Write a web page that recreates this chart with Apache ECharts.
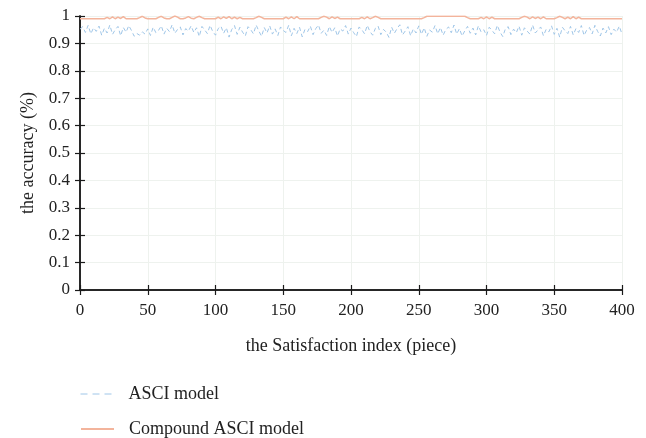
<!DOCTYPE html>
<html>
<head>
<meta charset="utf-8">
<script src="https://cdn.jsdelivr.net/npm/echarts@6/dist/echarts.min.js"></script>
<style>html,body{margin:0;padding:0;background:#fff}#c{width:646px;height:438px}</style>
</head>
<body>
<div id="c"></div>
<script>
const xTicks = [0, 50, 100, 150, 200, 250, 300, 350, 400];
const yTicks = [0, 0.1, 0.2, 0.3, 0.4, 0.5, 0.6, 0.7, 0.8, 0.9, 1];
const seriesNames = ['ASCI model', 'Compound ASCI model'];
const xStep = 2;
const asciValues = [
0.952,0.961,0.940,0.966,0.935,0.957,0.944,0.963,0.930,0.955,
0.938,0.967,0.933,0.950,0.962,0.928,0.958,0.941,0.965,0.947,
0.926,0.936,0.930,0.942,0.934,0.953,0.929,0.959,0.939,0.948,
0.964,0.934,0.955,0.943,0.968,0.937,0.951,0.960,0.931,0.954,
0.945,0.964,0.940,0.957,0.925,0.962,0.949,0.936,0.966,0.943,
0.930,0.954,0.963,0.937,0.957,0.923,0.951,0.965,0.933,0.959,
0.941,0.927,0.961,0.950,0.935,0.967,0.945,0.926,0.958,0.938,
0.964,0.934,0.953,0.929,0.960,0.947,0.940,0.966,0.928,0.955,
0.936,0.959,0.924,0.951,0.943,0.963,0.932,0.954,0.967,0.937,
0.948,0.929,0.962,0.940,0.957,0.927,0.953,0.945,0.965,0.934,
0.956,0.939,0.925,0.960,0.950,0.935,0.966,0.943,0.930,0.955,
0.963,0.932,0.951,0.941,0.922,0.959,0.937,0.954,0.968,0.931,
0.945,0.961,0.928,0.953,0.938,0.964,0.933,0.957,0.926,0.949,
0.941,0.965,0.935,0.958,0.930,0.951,0.960,0.939,0.967,0.934,
0.954,0.927,0.946,0.962,0.937,0.956,0.931,0.964,0.942,0.950,
0.929,0.959,0.948,0.935,0.966,0.941,0.925,0.954,0.961,0.932,
0.952,0.939,0.963,0.930,0.957,0.945,0.934,0.967,0.938,0.949,
0.960,0.928,0.951,0.942,0.964,0.933,0.955,0.923,0.959,0.946,
0.936,0.962,0.931,0.954,0.940,0.965,0.929,0.949,0.958,0.935,
0.966,0.944,0.927,0.956,0.938,0.961,0.932,0.952,0.941,0.963,
0.934
];
const compoundValues = [
0.990,0.990,0.990,0.990,0.990,0.990,0.990,0.990,0.990,0.990,
0.995,0.990,0.997,0.990,0.996,0.991,0.998,0.990,0.990,0.990,
0.990,0.990,0.994,0.999,0.993,0.990,0.990,0.990,0.990,0.995,
0.999,0.993,0.990,0.990,0.995,1.000,0.996,0.990,0.990,0.993,
0.998,0.992,0.990,0.995,0.999,0.994,0.990,0.990,0.990,0.990,
0.990,0.996,0.990,0.997,0.991,0.998,0.990,0.996,0.990,0.995,
0.990,0.990,0.990,0.990,0.990,0.994,0.999,0.995,0.990,0.990,
0.990,0.990,0.990,0.990,0.990,0.990,0.996,0.990,0.997,0.990,
0.998,0.990,0.990,0.990,0.990,0.990,0.990,0.990,0.990,0.995,
0.999,0.996,0.990,0.997,0.991,0.996,0.990,0.990,0.990,0.990,
0.990,0.990,0.990,0.990,0.995,0.990,0.997,0.990,0.994,0.999,
0.995,0.990,0.990,0.990,0.990,0.990,0.990,0.990,0.990,0.990,
0.990,0.990,0.990,0.990,0.990,0.990,0.990,0.994,0.999,0.999,
0.999,0.999,0.999,0.999,0.999,0.999,0.999,0.999,0.999,0.999,
0.999,0.999,0.999,0.994,0.990,0.990,0.990,0.990,0.995,0.990,
0.997,0.990,0.996,0.990,0.990,0.990,0.990,0.990,0.990,0.990,
0.990,0.990,0.990,0.995,0.999,0.996,0.990,0.997,0.991,0.996,
0.990,0.997,0.990,0.990,0.990,0.990,0.994,0.999,0.995,0.990,
0.996,0.990,0.998,0.990,0.996,0.990,0.990,0.990,0.990,0.990,
0.990,0.990,0.990,0.990,0.990,0.990,0.990,0.990,0.990,0.990,
0.990
];

const toPairs = arr => arr.map((v, i) => [i * xStep, v]);
const font = '"Liberation Serif", "DejaVu Serif", serif';
const axisLine = {show: true, lineStyle: {color: '#1a1a1a', width: 1.5}};
const tickIn = {show: true, inside: true, length: 5, lineStyle: {color: '#1a1a1a', width: 1.2}};
const legendBase = {
  orient: 'vertical', left: 80, padding: 0,
  itemWidth: 33, itemHeight: 14,
  itemStyle: {opacity: 0},
  textStyle: {fontFamily: font, fontSize: 18, color: '#222', padding: [0, 0, 0, 10]}
};

const chart = echarts.init(document.getElementById('c'));
chart.setOption({
  animation: false,
  backgroundColor: '#fff',
  textStyle: {fontFamily: font},
  grid: {left: 80, right: 24, top: 16, bottom: 148, containLabel: false},
  legend: [
    Object.assign({}, legendBase, {top: 385, data: [{name: seriesNames[0], lineStyle: {type: [7, 5], width: 1}}]}),
    Object.assign({}, legendBase, {top: 420, data: [{name: seriesNames[1]}]})
  ],
  xAxis: [{
    type: 'value', min: 0, max: 400, interval: 50,
    name: 'the Satisfaction index (piece)', nameLocation: 'middle', nameGap: 47,
    nameTextStyle: {fontFamily: font, fontSize: 18, color: '#222'},
    axisLine: axisLine, axisTick: tickIn,
    axisLabel: {fontFamily: font, fontSize: 17, color: '#222', margin: 12,
      formatter: v => xTicks.includes(v) ? String(v) : ''},
    splitLine: {show: true, lineStyle: {color: '#eef2ee', width: 1}}
  }, {
    type: 'value', position: 'top', min: 0, max: 400, interval: 50,
    axisLine: axisLine, axisTick: tickIn, axisLabel: {show: false}, splitLine: {show: false}
  }],
  yAxis: [{
    type: 'value', min: 0, max: 1, interval: 0.1,
    name: 'the accuracy (%)', nameLocation: 'middle', nameGap: 43, nameRotate: 90,
    nameTextStyle: {fontFamily: font, fontSize: 18, color: '#222'},
    axisLine: axisLine, axisTick: tickIn,
    axisLabel: {fontFamily: font, fontSize: 17, color: '#222', margin: 10,
      formatter: v => { const t = yTicks.find(y => Math.abs(y - v) < 1e-9); return t === undefined ? '' : String(t); }},
    splitLine: {show: true, lineStyle: {color: '#eef2ee', width: 1}}
  }, {
    type: 'value', position: 'right', min: 0, max: 1, interval: 0.1,
    axisLine: axisLine, axisTick: tickIn, axisLabel: {show: false}, splitLine: {show: false}
  }],
  series: [{
    name: seriesNames[0], type: 'line', data: toPairs(asciValues),
    showSymbol: false, symbol: 'none',
    lineStyle: {color: '#9fc6e8', width: 1, type: [4, 3]},
    itemStyle: {color: '#9fc6e8'}
  }, {
    name: seriesNames[1], type: 'line', data: toPairs(compoundValues),
    showSymbol: false, symbol: 'none',
    lineStyle: {color: '#f3b49c', width: 1.5},
    itemStyle: {color: '#f3b49c'}
  }]
});
</script>
</body>
</html>
